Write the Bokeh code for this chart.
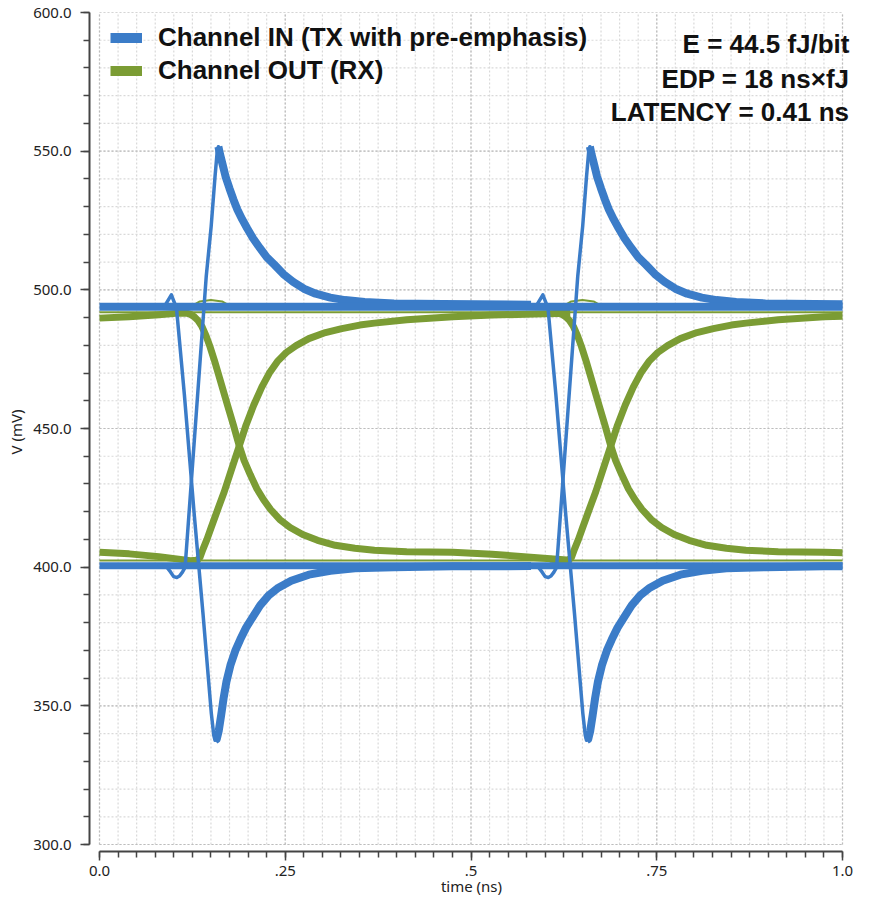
from bokeh.plotting import figure
from bokeh.models import Range1d, FixedTicker, Legend, LegendItem, Label
from bokeh.embed import file_html
from bokeh.resources import INLINE

# ---------------- data (time in ns, voltage in mV) ----------------
X_MAJOR = [0.0, 0.25, 0.5, 0.75, 1.0]
X_LABELS = ["0.0", ".25", ".5", ".75", "1.0"]
X_MINOR = [round(i * 0.025, 3) for i in range(41)]
Y_MAJOR = [300, 350, 400, 450, 500, 550, 600]
Y_LABELS = ["300.0", "350.0", "400.0", "450.0", "500.0", "550.0", "600.0"]
Y_MINOR = list(range(300, 601, 10))

TX_HIGH_T = [0.0, 1.0]
TX_HIGH_V = [493.9, 493.9]
TX_LOW_T = [0.0, 1.0]
TX_LOW_V = [400.5, 400.5]

TX_FALL1_EDGE_T = [0.0866, 0.0967, 0.1024, 0.1037, 0.1143, 0.1275, 0.1393, 0.1505, 0.1538, 0.1555, 0.1578]
TX_FALL1_EDGE_V = [493.7, 498.2, 494.3, 493.2, 462.0, 419.0, 383.2, 347.3, 339.4, 337.6, 338.4]
TX_FALL2_EDGE_T = [0.5866, 0.5967, 0.6024, 0.6037, 0.6143, 0.6275, 0.6393, 0.6505, 0.6538, 0.6555, 0.6578]
TX_FALL2_EDGE_V = [493.7, 498.2, 494.3, 493.2, 462.0, 419.0, 383.2, 347.3, 339.4, 337.6, 338.4]
TX_FALL1_TAIL_T = [0.1555, 0.1578, 0.1604, 0.1637, 0.1670, 0.1709, 0.1762, 0.1828, 0.1894, 0.1973, 0.2066,
                   0.2162, 0.2277, 0.2408, 0.2580, 0.2817, 0.3107, 0.3437, 0.3963, 0.4754, 0.5808]
TX_FALL1_TAIL_V = [337.6, 338.0, 340.9, 346.6, 352.7, 358.8, 364.6, 369.9, 373.9, 378.2, 382.2,
                   386.2, 389.8, 392.6, 395.1, 397.3, 398.7, 399.6, 400.0, 400.3, 400.4]
TX_FALL2_TAIL_T = [0.6555, 0.6578, 0.6604, 0.6637, 0.6670, 0.6709, 0.6762, 0.6828, 0.6894, 0.6973, 0.7066,
                   0.7162, 0.7277, 0.7408, 0.7580, 0.7817, 0.8107, 0.8437, 0.8963, 0.9754, 1.0]
TX_FALL2_TAIL_V = [337.6, 338.0, 340.9, 346.6, 352.7, 358.8, 364.6, 369.9, 373.9, 378.2, 382.2,
                   386.2, 389.8, 392.6, 395.1, 397.3, 398.7, 399.6, 400.0, 400.3, 400.3]

TX_RISE1_EDGE_T = [0.0800, 0.0909, 0.0958, 0.0998, 0.1041, 0.1077, 0.1116, 0.1152, 0.1437, 0.1503, 0.1555, 0.1584, 0.1600]
TX_RISE1_EDGE_V = [400.6, 399.9, 398.2, 396.6, 396.3, 396.8, 398.2, 399.9, 505.0, 522.9, 540.9, 549.8, 551.6]
TX_RISE2_EDGE_T = [0.5800, 0.5909, 0.5958, 0.5998, 0.6041, 0.6077, 0.6116, 0.6152, 0.6437, 0.6503, 0.6555, 0.6584, 0.6600]
TX_RISE2_EDGE_V = [400.6, 399.9, 398.2, 396.6, 396.3, 396.8, 398.2, 399.9, 505.0, 522.9, 540.9, 549.8, 551.6]
TX_RISE1_TAIL_T = [0.1600, 0.1624, 0.1657, 0.1696, 0.1749, 0.1802, 0.1855, 0.1921, 0.1987, 0.2066, 0.2158, 0.2250,
                   0.2356, 0.2474, 0.2606, 0.2751, 0.2909, 0.3107, 0.3305, 0.3569, 0.3963, 0.4622, 0.5808]
TX_RISE1_TAIL_V = [551.6, 548.7, 545.2, 540.9, 536.6, 532.6, 529.0, 525.4, 522.2, 518.6, 515.1, 511.8,
                   509.0, 505.7, 502.9, 500.4, 498.6, 497.2, 496.3, 495.6, 495.1, 494.9, 494.6]
TX_RISE2_TAIL_T = [0.6600, 0.6624, 0.6657, 0.6696, 0.6749, 0.6802, 0.6855, 0.6921, 0.6987, 0.7066, 0.7158, 0.7250,
                   0.7356, 0.7474, 0.7606, 0.7751, 0.7909, 0.8107, 0.8305, 0.8569, 0.8963, 0.9622, 1.0]
TX_RISE2_TAIL_V = [551.6, 548.7, 545.2, 540.9, 536.6, 532.6, 529.0, 525.4, 522.2, 518.6, 515.1, 511.8,
                   509.0, 505.7, 502.9, 500.4, 498.6, 497.2, 496.3, 495.6, 495.1, 494.9, 494.8]

RX_HIGH_T = [0.0, 1.0]
RX_HIGH_V = [491.9, 491.9]
RX_LOW_T = [0.0, 1.0]
RX_LOW_V = [402.4, 402.4]
RX_ARC1_T = [0.120, 0.135, 0.150, 0.165, 0.180]
RX_ARC1_V = [493.5, 495.8, 496.3, 495.8, 493.5]
RX_ARC2_T = [0.620, 0.635, 0.650, 0.665, 0.680]
RX_ARC2_V = [493.5, 495.8, 496.3, 495.8, 493.5]

RX_FALL1_T = [0.0, 0.04, 0.08, 0.1064, 0.1169, 0.1222, 0.1275, 0.1327, 0.1380, 0.1433, 0.1486, 0.1547, 0.1617,
              0.1723, 0.1802, 0.1877, 0.1947, 0.2030, 0.2118, 0.2206, 0.2303, 0.2425, 0.2566, 0.2734, 0.2935,
              0.3173, 0.3437, 0.3700, 0.4135, 0.4754, 0.5281, 0.5980, 0.6336]
RX_FALL1_V = [489.8, 490.3, 491.0, 491.6, 491.6, 491.2, 490.3, 488.9, 486.7, 483.5, 479.6, 474.5, 468.1,
              458.4, 451.3, 444.1, 438.4, 433.3, 428.3, 424.4, 420.8, 417.2, 414.3, 411.8, 409.7,
              407.9, 406.8, 406.1, 405.6, 405.4, 404.7, 403.2, 402.5]
RX_FALL2_T = [0.6169, 0.6222, 0.6275, 0.6327, 0.6380, 0.6433, 0.6486, 0.6547, 0.6617, 0.6723, 0.6802, 0.6877,
              0.6947, 0.7030, 0.7118, 0.7206, 0.7303, 0.7425, 0.7566, 0.7734, 0.7935, 0.8173, 0.8437, 0.8700,
              0.9135, 0.9754, 1.0]
RX_FALL2_V = [491.6, 491.2, 490.3, 488.9, 486.7, 483.5, 479.6, 474.5, 468.1, 458.4, 451.3, 444.1,
              438.4, 433.3, 428.3, 424.4, 420.8, 417.2, 414.3, 411.8, 409.7, 407.9, 406.8, 406.1,
              405.6, 405.4, 405.2]
RX_RISE1_T = [0.0, 0.04, 0.08, 0.1064, 0.1222, 0.1314, 0.1353, 0.1393, 0.1446, 0.1503, 0.1591, 0.1679, 0.1775,
              0.1877, 0.1973, 0.2075, 0.2184, 0.2293, 0.2395, 0.2514, 0.2646, 0.2817, 0.3041, 0.3261, 0.3502,
              0.3700, 0.4135, 0.4754, 0.5281, 0.5980, 0.6336]
RX_RISE1_V = [405.4, 404.8, 403.8, 402.9, 402.3, 402.5, 403.6, 406.5, 410.0, 414.3, 420.8, 427.2, 435.1,
              443.4, 451.3, 458.4, 464.9, 470.3, 474.2, 477.4, 479.9, 482.4, 484.6, 486.0, 487.3,
              488.0, 489.2, 490.3, 490.9, 491.4, 491.6]
RX_RISE2_T = [0.6064, 0.6222, 0.6314, 0.6353, 0.6393, 0.6446, 0.6503, 0.6591, 0.6679, 0.6775, 0.6877, 0.6973,
              0.7075, 0.7184, 0.7293, 0.7395, 0.7514, 0.7646, 0.7817, 0.8041, 0.8261, 0.8502, 0.8700, 0.9135,
              0.9754, 1.0]
RX_RISE2_V = [402.9, 402.3, 402.5, 403.6, 406.5, 410.0, 414.3, 420.8, 427.2, 435.1, 443.4, 451.3,
              458.4, 464.9, 470.3, 474.2, 477.4, 479.9, 482.4, 484.6, 486.0, 487.3, 488.0, 489.2,
              490.3, 490.5]

LEGEND_LABELS = ["Channel IN (TX with pre-emphasis)", "Channel OUT (RX)"]
NOTES = ["E = 44.5 fJ/bit", "EDP = 18 ns\u00d7fJ", "LATENCY = 0.41 ns"]
NOTE_Y = [588.5, 576.2, 564.3]
NOTE_X = 1.0094

# ---------------- styling ----------------
BLUE = "#3b7cc8"
GREEN = "#7b9c34"
TICK_FONT = "'Noto Sans', sans-serif"
BOLD_FONT = "'Liberation Sans', Arial, sans-serif"
NAN = float("nan")

p = figure(width=853, height=898, output_backend="svg", toolbar_location=None,
           x_range=Range1d(-0.01346, 1.0148), y_range=Range1d(297.48, 600.0),
           min_border_left=89, min_border_right=0, min_border_top=12, min_border_bottom=47)
p.outline_line_color = None
p.xgrid.visible = False
p.ygrid.visible = False
p.background_fill_color = "white"
p.border_fill_color = "white"

nx = len(X_MINOR)
p.segment(x0=X_MINOR, y0=[Y_MAJOR[0]] * nx, x1=X_MINOR, y1=[Y_MAJOR[-1]] * nx,
          line_color="#d9d9d9", line_width=1.2, line_dash="2 2", level="underlay")
ny = len(Y_MINOR)
p.segment(x0=[X_MAJOR[0]] * ny, y0=Y_MINOR, x1=[X_MAJOR[-1]] * ny, y1=Y_MINOR,
          line_color="#d9d9d9", line_width=1.2, line_dash="2 2", level="underlay")
p.segment(x0=X_MAJOR, y0=[Y_MAJOR[0]] * len(X_MAJOR), x1=X_MAJOR, y1=[Y_MAJOR[-1]] * len(X_MAJOR),
          line_color="#bdbdbd", line_width=1.2, line_dash="2 2", level="underlay")
p.segment(x0=[X_MAJOR[0]] * len(Y_MAJOR), y0=Y_MAJOR, x1=[X_MAJOR[-1]] * len(Y_MAJOR), y1=Y_MAJOR,
          line_color="#bdbdbd", line_width=1.2, line_dash="2 2", level="underlay")

for ax in (p.xaxis[0], p.yaxis[0]):
    ax.axis_line_color = "#444444"
    ax.axis_line_width = 2
    ax.major_tick_line_color = "#444444"
    ax.minor_tick_line_color = "#444444"
    ax.major_tick_line_width = 1.5
    ax.minor_tick_line_width = 1.5
    ax.major_tick_in = 0
    ax.major_tick_out = 9
    ax.minor_tick_in = 0
    ax.minor_tick_out = 6
    ax.major_label_text_font = TICK_FONT
    ax.major_label_text_font_size = "15px"
    ax.major_label_text_color = "#222222"
    ax.axis_label_text_font = TICK_FONT
    ax.axis_label_text_font_size = "15px"
    ax.axis_label_text_font_style = "normal"
    ax.axis_label_text_color = "#222222"

xa = p.xaxis[0]
xa.ticker = FixedTicker(ticks=X_MAJOR, minor_ticks=X_MINOR)
xa.major_label_overrides = dict(zip(X_MAJOR, X_LABELS))
xa.bounds = (X_MAJOR[0], X_MAJOR[-1])
xa.axis_label = "time (ns)"
xa.major_label_standoff = 5
xa.axis_label_standoff = -3

ya = p.yaxis[0]
ya.ticker = FixedTicker(ticks=Y_MAJOR, minor_ticks=Y_MINOR)
ya.major_label_overrides = dict(zip(Y_MAJOR, Y_LABELS))
ya.bounds = (Y_MAJOR[0], Y_MAJOR[-1])
ya.axis_label = "V (mV)"
ya.major_label_standoff = 9
ya.major_label_orientation = "horizontal"
ya.axis_label_standoff = 4

def rx(t, v, w):
    p.line(t, v, line_color=GREEN, line_width=w, line_join="round", line_cap="butt")

rx(RX_HIGH_T, RX_HIGH_V, 2)
rx(RX_LOW_T, RX_LOW_V, 2)
rx(RX_ARC1_T, RX_ARC1_V, 2)
rx(RX_ARC2_T, RX_ARC2_V, 2)
rx(RX_FALL1_T, RX_FALL1_V, 7)
rx(RX_RISE1_T, RX_RISE1_V, 7)
rx(RX_FALL2_T, RX_FALL2_V, 7)
rx(RX_RISE2_T, RX_RISE2_V, 7)

def tx(t, v, w, cap="butt"):
    p.line(t, v, line_color=BLUE, line_width=w, line_join="round", line_cap=cap)

tx(TX_FALL1_TAIL_T, TX_FALL1_TAIL_V, 8)
tx(TX_FALL2_TAIL_T, TX_FALL2_TAIL_V, 8)
tx(TX_RISE1_TAIL_T, TX_RISE1_TAIL_V, 8)
tx(TX_RISE2_TAIL_T, TX_RISE2_TAIL_V, 8)
p.line(TX_HIGH_T, TX_HIGH_V, line_color=BLUE, line_width=8)
p.line(TX_LOW_T, TX_LOW_V, line_color=BLUE, line_width=7)
tx(TX_FALL1_EDGE_T, TX_FALL1_EDGE_V, 3.5, "round")
tx(TX_FALL2_EDGE_T, TX_FALL2_EDGE_V, 3.5, "round")
tx(TX_RISE1_EDGE_T, TX_RISE1_EDGE_V, 3.5, "round")
tx(TX_RISE2_EDGE_T, TX_RISE2_EDGE_V, 3.5, "round")

sw_in = p.line([NAN], [NAN], line_color=BLUE, line_width=10)
sw_out = p.line([NAN], [NAN], line_color=GREEN, line_width=10)
legend = Legend(items=[LegendItem(label=LEGEND_LABELS[0], renderers=[sw_in]),
                       LegendItem(label=LEGEND_LABELS[1], renderers=[sw_out])],
                location=(21, 764), orientation="vertical",
                glyph_width=32, glyph_height=33, label_height=33, spacing=0,
                padding=0, margin=0, label_standoff=16,
                label_text_font=BOLD_FONT, label_text_font_size="26px",
                label_text_font_style="bold", label_text_color="#111111",
                background_fill_alpha=0, border_line_alpha=0)
p.add_layout(legend, "center")

for txt, yv in zip(NOTES, NOTE_Y):
    p.add_layout(Label(x=NOTE_X, y=yv, text=txt, text_align="right", text_baseline="middle",
                       text_font=BOLD_FONT, text_font_size="26px", text_font_style="bold",
                       text_color="#111111"))

open("out.html", "w").write(file_html(p, INLINE))
